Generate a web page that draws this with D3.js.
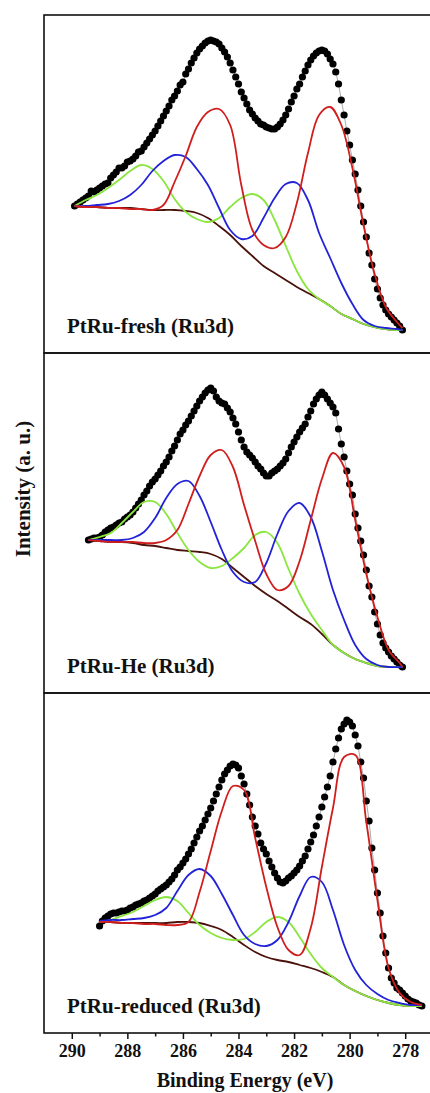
<!DOCTYPE html>
<html>
<head>
<meta charset="utf-8">
<script src="https://cdn.jsdelivr.net/npm/d3@7"></script>
<style>
  body { margin: 0; background: #fff; }
  text { font-family: "Liberation Serif", "Times New Roman", serif; font-weight: bold; fill: #111; }
</style>
</head>
<body>
<svg id="viz" width="430" height="1093"></svg>
<script>
// Ru3d XPS spectra, intensity in arbitrary units

var panelLabels = ['PtRu-fresh (Ru3d)', 'PtRu-He (Ru3d)', 'PtRu-reduced (Ru3d)'];
var xTicks = [290, 288, 286, 284, 282, 280, 278];

// measured points, one every 0.1 eV starting at these energies
var dataStart = [289.9, 289.4, 289.0];

var freshData = [
  147,149,151,153,155,157,162,161,163,165,
  167,169,170,175,178,181,185,185,187,191,
  192,194,197,201,202,206,210,214,218,222,
  227,232,237,242,247,253,257,262,268,271,
  279,284,290,295,300,304,307,310,312,313,
  312,311,309,305,301,296,290,283,276,269,
  261,255,249,243,239,235,232,229,228,226,
  225,224,224,226,229,233,238,244,251,257,
  264,269,276,282,288,293,297,300,302,303,
  302,299,294,289,281,269,253,238,222,208,
  193,179,163,147,131,116,100,88,74,64,
  55,48,43,39,36,33,30,27,23
];
var heData = [
  153,154,155,155,156,158,161,163,165,166,
  168,170,171,174,176,178,181,185,189,193,
  198,202,207,211,214,218,222,227,231,236,
  242,247,253,259,263,268,272,277,282,287,
  292,296,300,303,305,302,296,292,290,289,
  285,281,275,269,261,253,246,241,238,235,
  231,227,224,220,217,217,220,222,224,227,
  230,234,240,246,251,256,261,265,269,276,
  282,289,294,298,301,298,294,290,286,280,
  264,249,236,222,209,198,179,165,152,138,
  123,107,96,81,69,58,50,45,41,37,
  34,31,28,26
];
var reducedData = [
  107,112,115,117,119,120,120,121,122,122,
  123,125,126,128,129,130,132,133,135,137,
  139,142,144,146,148,151,154,158,163,166,
  170,174,179,184,190,196,202,207,213,219,
  225,232,239,246,253,259,263,267,269,268,
  265,257,249,239,228,216,207,199,190,184,
  179,172,166,160,155,151,150,152,155,157,
  160,163,167,172,177,184,191,198,207,216,
  226,236,246,257,271,284,295,304,309,313,
  311,307,298,287,271,255,232,212,185,163,
  140,120,97,80,65,55,50,45,43,40,
  37,34,32,31,30,28,27
];

// fitted components (background, red, blue, green doublets)
var freshE = [289.9,289.5,289.1,288.7,288.3,287.9,287.5,287.1,286.7,286.3,285.9,285.5,285.1,284.7,284.3,
  283.9,283.5,283.1,282.7,282.3,281.9,281.5,281.1,280.7,280.3,279.9,279.5,279.1,278.7,278.3,278.1];
var freshBg    = [147,146,146,145,145,145,144,143,143,143,142,140,135,127,118,107,97,87,80,73,66,60,54,47,39,34,29,26,24,23,23];
var freshRed   = [147,146,146,145,145,144,144,143,148,171,197,226,241,244,228,168,123,108,105,116,150,200,238,246,228,185,128,79,46,31,25];
var freshBlue  = [147,147,148,149,152,158,168,182,192,198,196,184,168,145,123,114,117,135,155,169,170,153,120,95,70,49,33,27,25,24,23];
var freshGreen = [147,153,158,165,173,182,188,184,172,154,141,134,131,135,146,155,159,153,133,107,82,64,54,47,39,34,29,26,24,23,23];

var heE = [289.4,289.0,288.6,288.2,287.8,287.4,287.0,286.6,286.2,285.8,285.4,285.0,284.6,284.2,283.8,
  283.4,283.0,282.6,282.2,281.8,281.4,281.0,280.6,280.2,279.8,279.4,279.0,278.6,278.2,278.1];
var heBg    = [153,152,151,151,150,148,147,145,143,142,141,139,134,125,116,107,99,92,84,76,69,59,48,40,34,30,27,26,26,26];
var heRed   = [153,152,151,151,151,150,150,153,163,189,217,238,243,226,188,152,119,103,107,132,173,214,240,226,173,119,76,43,30,26];
var heBlue  = [153,153,153,153,155,161,175,195,209,212,197,171,143,121,111,111,130,159,182,190,176,142,103,73,48,34,28,26,26,26];
var heGreen = [153,156,160,170,181,191,191,179,160,143,131,125,127,135,145,158,161,150,124,99,79,63,48,40,34,30,27,26,26,26];

var reducedE = [289.0,288.6,288.2,287.8,287.4,287.0,286.6,286.2,285.8,285.4,285.0,284.6,284.2,283.8,283.4,
  283.0,282.6,282.2,281.8,281.4,281.0,280.6,280.2,279.8,279.4,279.0,278.6,278.2,277.8,277.4];
var reducedBg    = [111,111,110,110,110,110,110,111,111,110,107,103,96,88,81,76,73,71,68,65,61,56,48,42,37,33,30,28,27,27];
var reducedRed   = [111,111,110,110,109,109,108,108,111,141,182,222,247,243,195,146,106,83,78,105,166,225,276,278,211,133,65,40,31,28];
var reducedBlue  = [112,113,113,114,115,118,125,142,158,164,157,139,118,98,89,87,93,111,137,156,151,123,88,63,48,39,33,30,28,28];
var reducedGreen = [111,113,117,121,127,133,136,132,120,108,100,95,93,94,101,111,116,111,96,79,65,56,48,42,37,33,30,28,27,27];

var panelTops = [15, 353, 693];
var panelBottoms = [353, 693, 1033];

var colors = { bg: '#4a120a', green: '#8ae63e', blue: '#2222d8', red: '#d01e1e' };

var svg = d3.select('#viz');
var x = d3.scaleLinear().domain([291, 277]).range([44, 433]);

var panels = [
  { data: freshData, e: freshE, bg: freshBg, red: freshRed, blue: freshBlue, green: freshGreen },
  { data: heData, e: heE, bg: heBg, red: heRed, blue: heBlue, green: heGreen },
  { data: reducedData, e: reducedE, bg: reducedBg, red: reducedRed, blue: reducedBlue, green: reducedGreen }
];

panels.forEach(function(p, n) {
  var top = panelTops[n], bottom = panelBottoms[n];
  var y = d3.scaleLinear().domain([0, bottom - top]).range([bottom, top]);
  var g = svg.append('g');

  var pts = p.data.map(function(v, i) { return [dataStart[n] - 0.1 * i, v]; });
  var line = d3.line().x(function(d) { return x(d[0]); }).y(function(d) { return y(d[1]); });

  // thin envelope through the measurement
  g.append('path')
    .attr('d', line(pts))
    .style('fill', 'none')
    .style('stroke', '#aaa')
    .style('stroke-width', 1);

  g.selectAll('circle')
    .data(pts)
    .enter()
    .append('circle')
    .attr('cx', function(d) { return x(d[0]); })
    .attr('cy', function(d) { return y(d[1]); })
    .attr('r', 3.6)
    .style('fill', '#000');

  var smooth = line.curve(d3.curveCatmullRom);
  ['bg', 'green', 'blue', 'red'].forEach(function(key) {
    var cpts = p[key].map(function(v, i) { return [p.e[i], v]; });
    g.append('path')
      .attr('d', smooth(cpts))
      .style('fill', 'none')
      .style('stroke', colors[key])
      .style('stroke-width', 1.8);
  });

  g.append('text')
    .attr('x', 67)
    .attr('y', bottom - 20)
    .style('font-size', '21px')
    .text(panelLabels[n]);

  svg.append('rect')
    .attr('x', 44)
    .attr('y', top)
    .attr('width', 389)
    .attr('height', bottom - top)
    .style('fill', 'none')
    .style('stroke', '#111')
    .style('stroke-width', 1.6);
});

// bottom axis: labelled even ticks, short odd ticks
var major = svg.append('g')
  .attr('transform', 'translate(0,1033)')
  .call(d3.axisBottom(x).tickValues(xTicks).tickSize(6).tickSizeOuter(0).tickPadding(5).tickFormat(d3.format('d')));
major.select('.domain').remove();
major.selectAll('line').style('stroke', '#111').style('stroke-width', 1.5);
major.selectAll('text').style('font-size', '18px').style('font-family', null);

var minor = svg.append('g')
  .attr('transform', 'translate(0,1033)')
  .call(d3.axisBottom(x).tickValues([289, 287, 285, 283, 281, 279, 277]).tickSize(3.5).tickFormat(''));
minor.select('.domain').remove();
minor.selectAll('line').style('stroke', '#111').style('stroke-width', 1.5);

svg.append('text')
  .attr('x', 245)
  .attr('y', 1087)
  .attr('text-anchor', 'middle')
  .style('font-size', '20px')
  .text('Binding Energy (eV)');

svg.append('text')
  .attr('transform', 'translate(30,489) rotate(-90)')
  .attr('text-anchor', 'middle')
  .style('font-size', '21px')
  .text('Intensity (a. u.)');
</script>
</body>
</html>
